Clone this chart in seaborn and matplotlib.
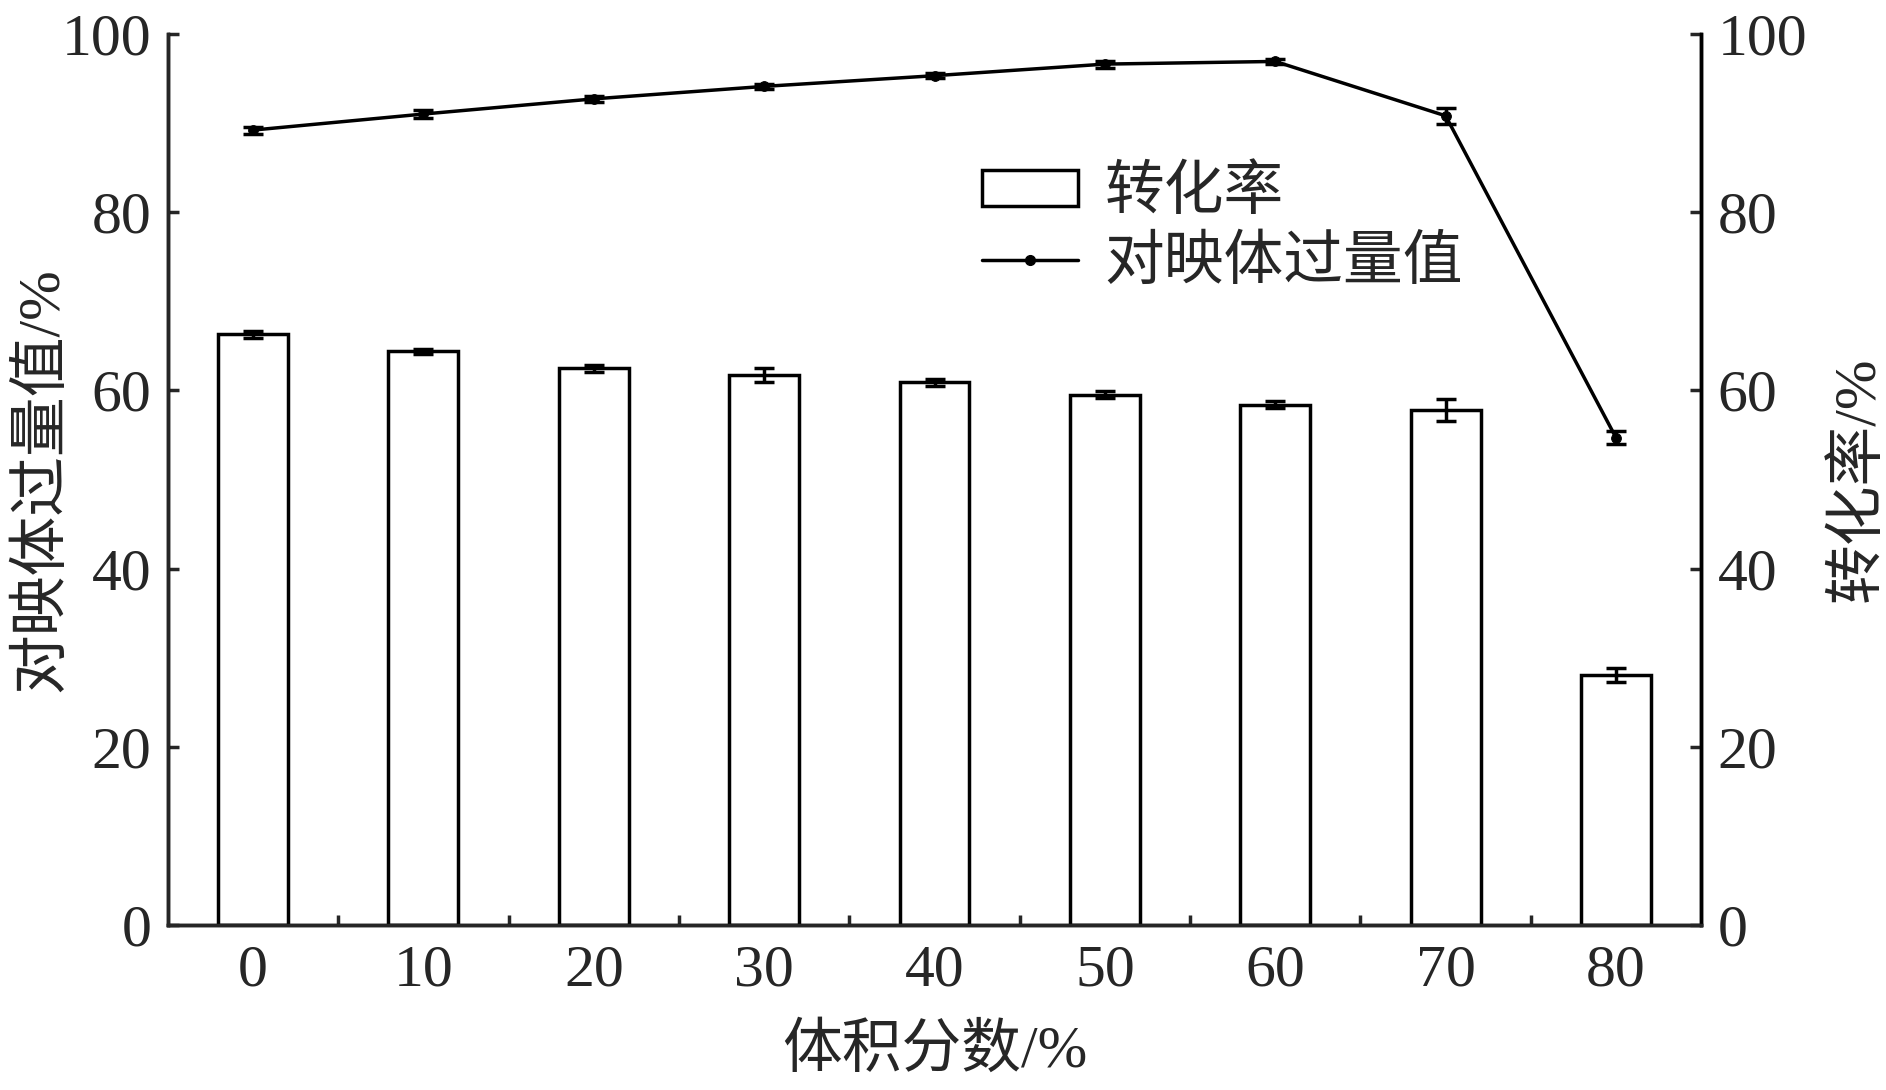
import numpy as np
import pandas as pd
import matplotlib
matplotlib.use("Agg")
import matplotlib.pyplot as plt
import seaborn as sns
from matplotlib.patches import Patch
from matplotlib.lines import Line2D
from matplotlib.ticker import FixedLocator

# ---- data ----
volume_fraction = ["0", "10", "20", "30", "40", "50", "60", "70", "80"]
conversion = [66.3, 64.4, 62.5, 61.7, 60.9, 59.5, 58.4, 57.8, 28.1]
conversion_err = [0.4, 0.3, 0.4, 0.8, 0.4, 0.4, 0.4, 1.2, 0.8]
ee_value = [89.2, 91.0, 92.7, 94.1, 95.3, 96.6, 96.9, 90.8, 54.7]
ee_err = [0.4, 0.4, 0.3, 0.3, 0.3, 0.4, 0.3, 0.9, 0.7]

df = pd.DataFrame({"fraction": volume_fraction, "conversion": conversion,
                   "ee": ee_value})

sns.set_theme(style="white")
plt.rcParams["font.family"] = ["Liberation Serif", "Noto Sans CJK SC"]
plt.rcParams["axes.linewidth"] = 2.5
FS = 43
LW = 2.5

fig, ax = plt.subplots(figsize=(18.86, 10.90), dpi=100)
fig.subplots_adjust(left=0.089, right=0.902, top=0.969, bottom=0.151)

# bars: conversion
sns.barplot(data=df, x="fraction", y="conversion", ax=ax, errorbar=None,
            width=0.41, color="white", edgecolor="black", linewidth=LW,
            zorder=2)
xpos = np.arange(len(volume_fraction))
ax.errorbar(xpos, conversion, yerr=conversion_err, fmt="none", ecolor="black",
            elinewidth=LW, capsize=7, capthick=LW, zorder=3)

# line: ee value
sns.lineplot(x=xpos, y=ee_value, ax=ax, color="black", linewidth=LW,
             marker="o", markersize=7, markeredgecolor="black", zorder=4)
ax.errorbar(xpos, ee_value, yerr=ee_err, fmt="none", ecolor="black",
            elinewidth=LW, capsize=7, capthick=LW, zorder=4)

ax.set_xlim(-0.5, 8.5)
ax.set_ylim(0, 100)
ax.set_yticks([0, 20, 40, 60, 80, 100])
ax.xaxis.set_minor_locator(FixedLocator(xpos[:-1] + 0.5))
ax.tick_params(axis="x", which="major", length=0, labelsize=FS, pad=14)
ax.tick_params(axis="x", which="minor", direction="in", length=7, width=LW,
               bottom=True)
ax.tick_params(axis="y", direction="in", length=8, width=LW, labelsize=FS,
               pad=12, left=True)
ax.spines["top"].set_visible(False)
for s in ["left", "bottom", "right"]:
    ax.spines[s].set_color("black")

ax.set_xlabel("体积分数/%", fontsize=FS, va="center")
ax.set_ylabel("对映体过量值/%", fontsize=FS, va="center")
ax.xaxis.set_label_coords(0.5, -0.142)
ax.yaxis.set_label_coords(-0.082, 0.5)

ax2 = ax.twinx()
ax2.set_ylim(0, 100)
ax2.set_yticks([0, 20, 40, 60, 80, 100])
ax2.tick_params(axis="y", direction="in", length=8, width=LW, labelsize=FS,
                pad=12, right=True)
ax2.spines["top"].set_visible(False)
ax2.spines["right"].set_color("black")
ax2.spines["right"].set_linewidth(LW)
ax2.set_ylabel("转化率/%", fontsize=FS, va="center")
ax2.yaxis.set_label_coords(1.1025, 0.5)
ax2.grid(False)
ax.grid(False)

handles = [Patch(facecolor="white", edgecolor="black", linewidth=LW),
           Line2D([0], [0], color="black", linewidth=LW, marker="o",
                  markersize=7)]
ax.legend(handles, ["转化率", "对映体过量值"], loc="upper left",
          bbox_to_anchor=(0.505, 0.875), bbox_transform=fig.transFigure,
          frameon=False, fontsize=FS, handlelength=1.6, handleheight=0.55,
          handletextpad=0.45, labelspacing=0.25, borderpad=0)

fig.savefig("out.png", dpi=100, facecolor="white")
